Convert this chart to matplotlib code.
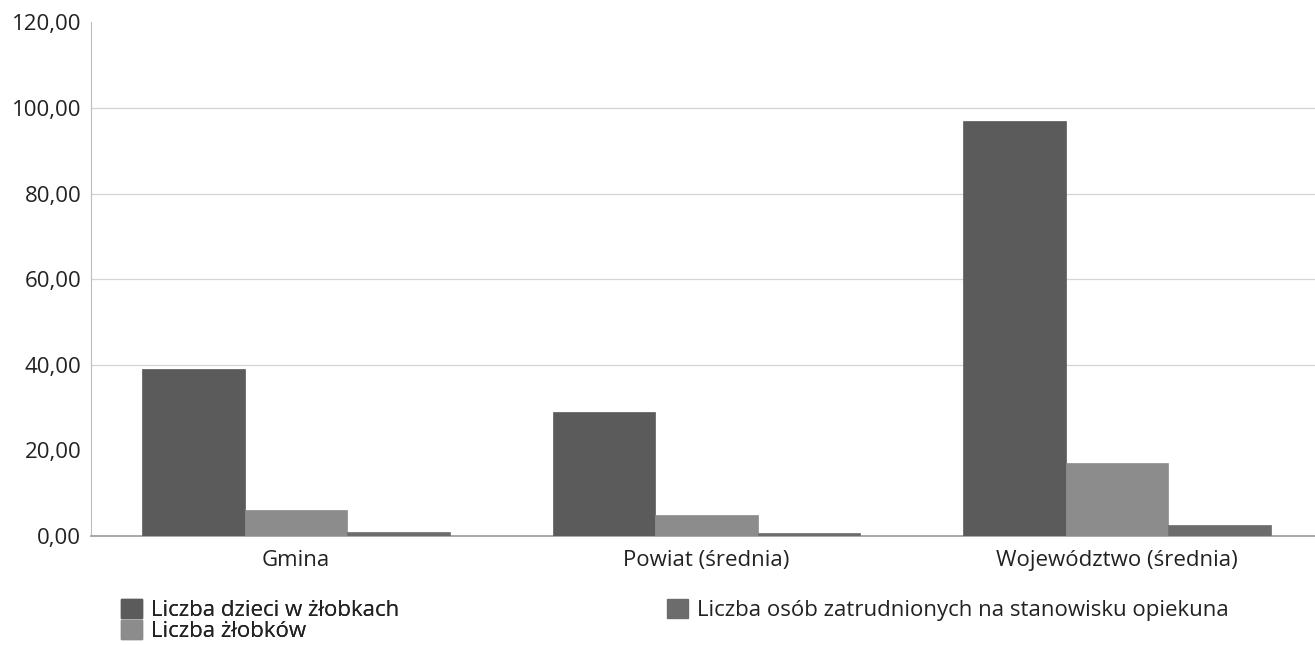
import matplotlib
matplotlib.use("Agg")
import matplotlib.pyplot as plt
import numpy as np
from matplotlib.patches import Patch

plt.rcParams['font.family'] = ['Open Sans', 'DejaVu Sans']

categories = ["Gmina", "Powiat (średnia)", "Województwo (średnia)"]
series_names = ["Liczba dzieci w żłobkach", "Liczba żłobków",
                "Liczba osób zatrudnionych na stanowisku opiekuna"]
dzieci = [39.0, 29.0, 97.0]
zlobki = [6.0, 5.0, 17.0]
opiekunowie = [1.0, 0.8, 2.5]
yticks = [0, 20, 40, 60, 80, 100, 120]

colors = ["#5b5b5b", "#8c8c8c", "#6c6c6c"]
fs = 16

fig = plt.figure(figsize=(13.15, 6.45), dpi=100)
ax = fig.add_axes([91/1315, 1 - 536/645, (1322 - 91)/1315, (536 - 22.4)/645])

x = np.arange(len(categories))
w = 0.25
values = [dzieci, zlobki, opiekunowie]
for i, (vals, col) in enumerate(zip(values, colors)):
    ax.bar(x + (i - 1) * w, vals, width=w, color=col, edgecolor=col, linewidth=0.5, zorder=3)

ax.set_xlim(-0.5, 2.5)
ax.set_ylim(0, 120)
ax.set_yticks(yticks)
ax.set_yticklabels([f"{v:.2f}".replace(".", ",") for v in yticks], fontsize=fs, color="#222222")
ax.set_xticks(x)
ax.set_xticklabels(categories, fontsize=fs, color="#222222")
ax.tick_params(axis='y', length=0, pad=7)
ax.tick_params(axis='x', length=0, pad=10)
for g in [40, 60, 80, 100]:
    ax.axhline(g, color="#d4d4d4", linewidth=0.9, zorder=1)
for s in ["top", "right"]:
    ax.spines[s].set_visible(False)
ax.spines["left"].set_color("#bdbdbd")
ax.spines["bottom"].set_color("#9a9a9a")
ax.spines["bottom"].set_linewidth(1.2)

h = [Patch(facecolor=c, edgecolor=c) for c in colors]
leg1 = fig.legend([h[0], h[1]], [series_names[0], series_names[1]],
                  loc="upper left", bbox_to_anchor=(110/1315, 1 - 588/645),
                  frameon=False, fontsize=fs, handlelength=0.95, handleheight=0.95,
                  handletextpad=0.4, labelspacing=-0.05, borderpad=0, labelcolor="#222222")
leg2 = fig.legend([h[2]], [series_names[2]],
                  loc="upper left", bbox_to_anchor=(656/1315, 1 - 588/645),
                  frameon=False, fontsize=fs, handlelength=0.95, handleheight=0.95,
                  handletextpad=0.4, borderpad=0, labelcolor="#222222")
fig.add_artist(leg1)

fig.savefig("out.png", dpi=100)
